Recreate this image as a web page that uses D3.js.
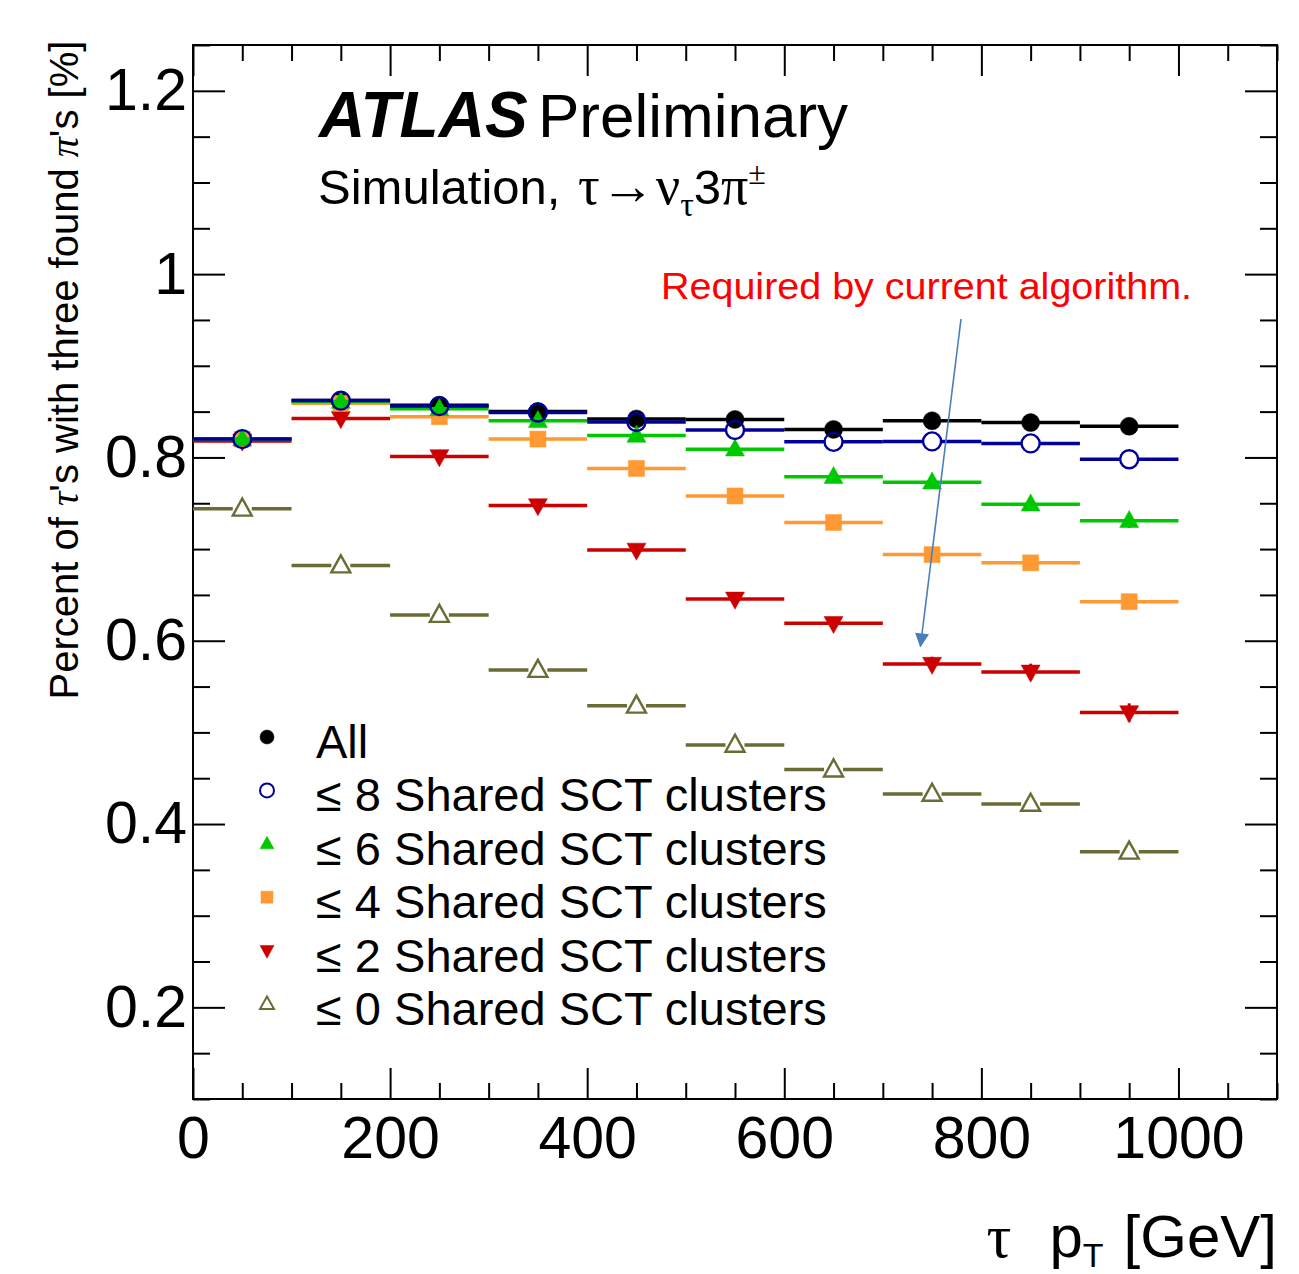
<!DOCTYPE html>
<html>
<head>
<meta charset="utf-8">
<script src="https://cdn.jsdelivr.net/npm/d3@7"></script>
<style>
  html, body { margin: 0; padding: 0; background: #fff; }
  svg { display: block; }
  text { font-family: "Liberation Sans", Arial, Helvetica, sans-serif; }
</style>
</head>
<body>
<svg id="chart" width="1299" height="1274"></svg>
<script>
// ---------------- data ----------------
const binEdges = [0, 100, 200, 300, 400, 500, 600, 700, 800, 900, 1000];
const xTickLabels = [0, 200, 400, 600, 800, 1000];
const yTickLabels = [0.2, 0.4, 0.6, 0.8, 1, 1.2];

const seriesNames = ["All", "\u2264 8 Shared SCT clusters", "\u2264 6 Shared SCT clusters",
  "\u2264 4 Shared SCT clusters", "\u2264 2 Shared SCT clusters", "\u2264 0 Shared SCT clusters"];

const valAll  = [0.820, 0.862, 0.857, 0.850, 0.842, 0.8415, 0.8306, 0.840, 0.838, 0.834];
const valSct8 = [0.820, 0.862, 0.856, 0.849, 0.8386, 0.830, 0.817, 0.8175, 0.8153, 0.798];
const valSct6 = [0.820, 0.861, 0.853, 0.840, 0.824, 0.809, 0.779, 0.773, 0.749, 0.731];
const valSct4 = [0.820, 0.859, 0.8445, 0.820, 0.788, 0.758, 0.729, 0.694, 0.685, 0.6426];
const valSct2 = [0.818, 0.8426, 0.801, 0.7475, 0.699, 0.6456, 0.619, 0.5745, 0.566, 0.5217];
const valSct0 = [0.744, 0.682, 0.628, 0.568, 0.529, 0.4863, 0.4594, 0.4328, 0.4219, 0.3697];

const errAll  = [0.001, 0.001, 0.001, 0.002, 0.002, 0.003, 0.003, 0.003, 0.004, 0.004];
const errSct8 = [0.001, 0.001, 0.001, 0.002, 0.002, 0.003, 0.003, 0.004, 0.004, 0.005];
const errSct6 = [0.001, 0.001, 0.002, 0.002, 0.003, 0.003, 0.004, 0.005, 0.006, 0.008];
const errSct4 = [0.001, 0.001, 0.002, 0.003, 0.003, 0.004, 0.005, 0.006, 0.007, 0.008];
const errSct2 = [0.001, 0.002, 0.002, 0.003, 0.004, 0.005, 0.007, 0.008, 0.009, 0.010];
const errSct0 = [0.002, 0.002, 0.003, 0.003, 0.004, 0.005, 0.006, 0.006, 0.007, 0.008];

const annotationText = "Required by current algorithm.";

// ---------------- layout ----------------
const svg = d3.select("#chart");
const plot = { left: 193, right: 1277, top: 45, bottom: 1099 };
const x = d3.scaleLinear().domain([0, 1100]).range([plot.left, plot.right]);
const y = d3.scaleLinear().domain([0.1, 1.25]).range([plot.bottom, plot.top]);

const styles = [
  { color: "#000000", shape: "circle", fill: "#000000", open: false, size: 18 },
  { color: "#00009a", shape: "circle", fill: "none", open: true, size: 18 },
  { color: "#00c800", shape: "tri", fill: "#00c800", open: false, size: 19 },
  { color: "#ff9933", shape: "square", fill: "#ff9933", open: false, size: 16 },
  { color: "#cc0000", shape: "tridown", fill: "#cc0000", open: false, size: 19 },
  { color: "#6b6b35", shape: "tri", fill: "none", open: true, size: 19 }
];
const seriesVals = [valAll, valSct8, valSct6, valSct4, valSct2, valSct0];
const seriesErrs = [errAll, errSct8, errSct6, errSct4, errSct2, errSct0];
const drawOrder = [0, 5, 4, 3, 2, 1];

function markerPath(shape, s) {
  if (shape === "circle") return d3.symbol(d3.symbolCircle, Math.PI * s * s / 4)();
  if (shape === "square") return `M${-s/2},${-s/2}H${s/2}V${s/2}H${-s/2}Z`;
  const h = s * 0.9;
  if (shape === "tri") return `M0,${-h*0.6}L${s/2},${h*0.4}L${-s/2},${h*0.4}Z`;
  return `M0,${h*0.6}L${s/2},${-h*0.4}L${-s/2},${-h*0.4}Z`;
}

// ---------------- axes ----------------
const minorX = d3.range(0, 1101, 50).filter(v => v % 200 !== 0);
const minorY = d3.range(0.1, 1.2501, 0.05).map(v => +v.toFixed(2)).filter(v => Math.abs(v * 5 - Math.round(v * 5)) > 1e-6);

function styleAxis(g) {
  g.select(".domain").remove();
  g.selectAll(".tick line").attr("stroke", "#000").attr("stroke-width", 2);
  g.selectAll("text").attr("fill", "#000");
}

const fmtY = d => (d === 1 ? "1" : d3.format(".1f")(d));

svg.append("g").attr("transform", `translate(0,${plot.bottom})`)
  .call(d3.axisBottom(x).tickValues(xTickLabels).tickSize(-31).tickPadding(17).tickFormat(d3.format("d")))
  .call(styleAxis).selectAll("text").attr("font-size", 59);
svg.append("g").attr("transform", `translate(0,${plot.bottom})`)
  .call(d3.axisBottom(x).tickValues(minorX).tickSize(-16).tickFormat(""))
  .call(styleAxis);
svg.append("g").attr("transform", `translate(0,${plot.top})`)
  .call(d3.axisTop(x).tickValues(xTickLabels).tickSize(-31).tickFormat(""))
  .call(styleAxis);
svg.append("g").attr("transform", `translate(0,${plot.top})`)
  .call(d3.axisTop(x).tickValues(minorX).tickSize(-16).tickFormat(""))
  .call(styleAxis);

svg.append("g").attr("transform", `translate(${plot.left},0)`)
  .call(d3.axisLeft(y).tickValues(yTickLabels).tickSize(-32).tickPadding(6).tickFormat(fmtY))
  .call(styleAxis).selectAll("text").attr("font-size", 59);
svg.append("g").attr("transform", `translate(${plot.left},0)`)
  .call(d3.axisLeft(y).tickValues(minorY).tickSize(-17).tickFormat(""))
  .call(styleAxis);
svg.append("g").attr("transform", `translate(${plot.right},0)`)
  .call(d3.axisRight(y).tickValues(yTickLabels).tickSize(-32).tickFormat(""))
  .call(styleAxis);
svg.append("g").attr("transform", `translate(${plot.right},0)`)
  .call(d3.axisRight(y).tickValues(minorY).tickSize(-17).tickFormat(""))
  .call(styleAxis);

// frame
svg.append("rect")
  .attr("x", plot.left).attr("y", plot.top)
  .attr("width", plot.right - plot.left).attr("height", plot.bottom - plot.top)
  .attr("fill", "none").attr("stroke", "#000").attr("stroke-width", 2);

// ---------------- data marks ----------------
const dataG = svg.append("g");
drawOrder.forEach(si => {
  const st = styles[si];
  const vals = seriesVals[si];
  const errs = seriesErrs[si];
  const gap = st.open ? st.size / 2 : 0;
  const g = dataG.append("g");
  const rows = vals.map((v, i) => ({ lo: binEdges[i], hi: binEdges[i + 1], v, e: errs[i] }));
  const segs = [];
  rows.forEach(d => {
    const cx = x((d.lo + d.hi) / 2);
    segs.push({ x1: x(d.lo), x2: cx - gap, yy: y(d.v) });
    segs.push({ x1: cx + gap, x2: x(d.hi), yy: y(d.v) });
  });
  g.selectAll("line.h").data(segs).join("line").attr("class", "h")
    .attr("x1", d => d.x1).attr("x2", d => d.x2)
    .attr("y1", d => d.yy).attr("y2", d => d.yy)
    .attr("stroke", st.color).attr("stroke-width", 3.5);
  g.selectAll("line.v").data(rows).join("line").attr("class", "v")
    .attr("x1", d => x((d.lo + d.hi) / 2)).attr("x2", d => x((d.lo + d.hi) / 2))
    .attr("y1", d => y(d.v - d.e)).attr("y2", d => y(d.v + d.e))
    .attr("stroke", st.color).attr("stroke-width", 3)
    .attr("display", st.open ? "none" : null);
  g.selectAll("path").data(rows).join("path")
    .attr("transform", d => `translate(${x((d.lo + d.hi) / 2)},${y(d.v)})`)
    .attr("d", markerPath(st.shape, st.size))
    .attr("fill", st.fill)
    .attr("stroke", st.color)
    .attr("stroke-width", st.open ? 2.4 : 0.5);
});

// ---------------- labels ----------------
// ATLAS Preliminary
const atlas = svg.append("text").attr("x", 319).attr("y", 137);
atlas.append("tspan").attr("font-size", 64).attr("font-weight", "bold").attr("font-style", "italic").text("ATLAS");
svg.append("text").attr("x", 538).attr("y", 137).attr("font-size", 62).text("Preliminary");

// Simulation line
const serif = "Liberation Serif, 'DejaVu Serif', serif";
const sim = svg.append("text").attr("x", 318).attr("y", 204).attr("font-size", 49);
sim.append("tspan").text("Simulation, ");
sim.append("tspan").attr("font-family", serif).attr("font-size", 54).attr("dx", 4).text("\u03c4");
sim.append("tspan").attr("font-family", serif).attr("font-size", 54).attr("dx", 1).text("\u2192");
sim.append("tspan").attr("font-family", serif).attr("font-size", 54).attr("dx", 1).text("\u03bd");
sim.append("tspan").attr("font-family", serif).attr("font-size", 34).attr("dy", 12).text("\u03c4");
sim.append("tspan").attr("dy", -12).text("3");
sim.append("tspan").attr("font-family", serif).attr("font-size", 54).text("\u03c0");
sim.append("tspan").attr("font-family", serif).attr("font-size", 32).attr("dy", -20).text("\u00b1");

// y-axis title
const yt = svg.append("text")
  .attr("transform", "translate(78,370) rotate(-90)")
  .attr("text-anchor", "middle").attr("font-size", 40);
yt.append("tspan").text("Percent of ");
yt.append("tspan").attr("font-family", serif).attr("font-style", "italic").text("\u03c4");
yt.append("tspan").text("'s with three found ");
yt.append("tspan").attr("font-family", serif).attr("font-style", "italic").text("\u03c0");
yt.append("tspan").text("'s [%]");

// x-axis title
const xt = svg.append("text").attr("x", 1277).attr("y", 1257).attr("text-anchor", "end").attr("font-size", 60);
xt.append("tspan").attr("font-family", serif).attr("font-size", 62).text("\u03c4");
xt.append("tspan").attr("dx", 38).text("p");
xt.append("tspan").attr("font-size", 34).attr("dy", 10).text("T");
xt.append("tspan").attr("dy", -10).attr("dx", 20).text("[GeV]");

// ---------------- legend ----------------
const legend = svg.append("g");
const legendRowY = d3.scaleLinear().domain([0, 5]).range([741, 1008]);
seriesNames.forEach((name, i) => {
  const st = styles[i];
  const cy = legendRowY(i);
  legend.append("path")
    .attr("transform", `translate(267,${cy - 4})`)
    .attr("d", markerPath(st.shape, st.shape === "square" ? 12 : 14))
    .attr("fill", st.fill).attr("stroke", st.color)
    .attr("stroke-width", st.open ? 2 : 0.5);
  legend.append("text").attr("x", 316).attr("y", cy + 17).attr("font-size", 47).text(name);
});

// ---------------- annotation ----------------
svg.append("text").attr("x", 661).attr("y", 299)
  .attr("font-family", "Lato, 'Open Sans', sans-serif").attr("font-size", 37)
  .attr("fill", "#ff0000")
  .attr("textLength", 531).attr("lengthAdjust", "spacingAndGlyphs")
  .text(annotationText);

const defs = svg.append("defs");
defs.append("marker").attr("id", "arrowHead")
  .attr("viewBox", "0 0 10 10").attr("refX", 9).attr("refY", 5)
  .attr("markerWidth", 18).attr("markerHeight", 14).attr("markerUnits", "userSpaceOnUse")
  .attr("orient", "auto")
  .append("path").attr("d", "M0,0L10,5L0,10Z").attr("fill", "#4a7ebb");
svg.append("line")
  .attr("x1", 961).attr("y1", 319).attr("x2", 920.5).attr("y2", 646)
  .attr("stroke", "#4a7ebb").attr("stroke-width", 1.6)
  .attr("marker-end", "url(#arrowHead)");
</script>
</body>
</html>
